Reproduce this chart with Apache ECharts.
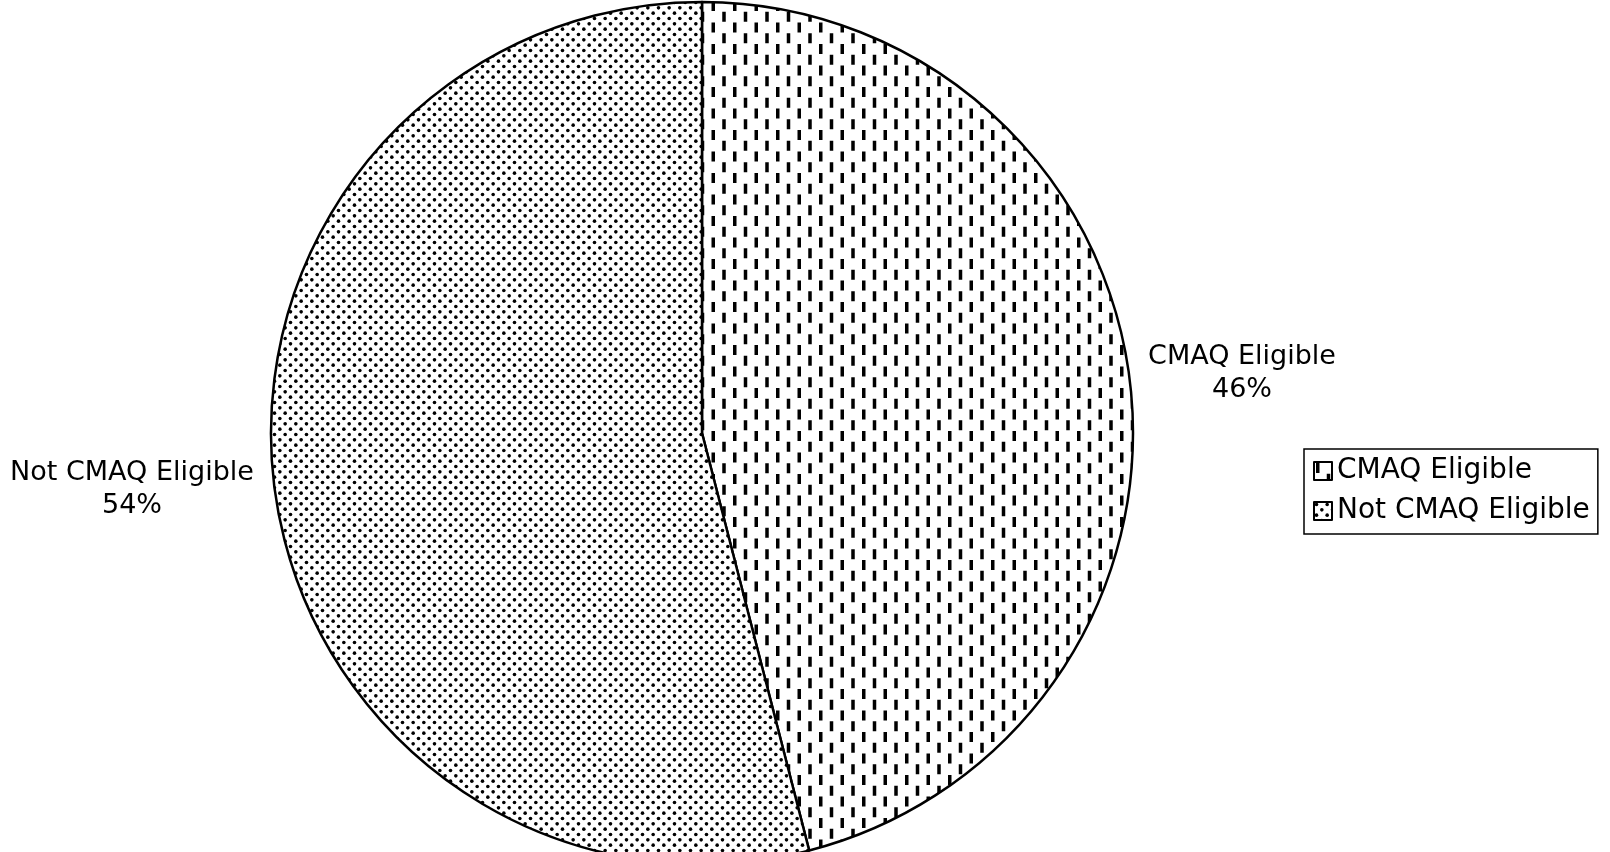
<!DOCTYPE html>
<html>
<head>
<meta charset="utf-8">
<script src="https://cdn.jsdelivr.net/npm/echarts@6/dist/echarts.min.js"></script>
<style>
  html, body { margin: 0; padding: 0; background: #fff; }
  #chart { width: 1610px; height: 852px; }
</style>
</head>
<body>
<div id="chart"></div>
<script>
// data
const categories = ['CMAQ Eligible', 'Not CMAQ Eligible'];
const shares = [46, 54];

// hatch fills, drawn once on small canvases
function dashTile() {
  const c = document.createElement('canvas');
  c.width = 43; c.height = 43;
  const ctx = c.getContext('2d');
  ctx.fillStyle = '#fff';
  ctx.fillRect(0, 0, 43, 43);
  ctx.fillStyle = '#000';
  for (let k = 0; k < 4; k++) {
    const x = 2 + k * 10.75;
    const off = (k % 2) * 10.75;
    for (let j = -1; j < 3; j++) {
      ctx.fillRect(x, off + j * 21.5 + 1, 3.5, 10);
    }
  }
  return c;
}
function dotTile() {
  const c = document.createElement('canvas');
  c.width = 32; c.height = 32;
  const ctx = c.getContext('2d');
  ctx.fillStyle = '#fff';
  ctx.fillRect(0, 0, 32, 32);
  ctx.fillStyle = '#000';
  const p = 32 / 3;
  for (let i = -1; i < 4; i++) {
    for (let j = -1; j < 4; j++) {
      ctx.beginPath();
      ctx.arc(i * p + 2.5, j * p + 2.5, 1.8, 0, Math.PI * 2);
      ctx.fill();
      ctx.beginPath();
      ctx.arc(i * p + 2.5 + p / 2, j * p + 2.5 + p / 2, 1.8, 0, Math.PI * 2);
      ctx.fill();
    }
  }
  return c;
}
const fills = [
  { image: dashTile(), repeat: 'repeat' },
  { image: dotTile(), repeat: 'repeat' }
];
// where the two labels sit
const labelSpots = [[1242, 373], [132, 489]];

const chart = echarts.init(document.getElementById('chart'));
chart.setOption({
  animation: false,
  textStyle: { fontFamily: 'DejaVu Sans', color: '#000' },
  legend: {
    orient: 'vertical',
    left: 1304,
    top: 449,
    padding: [8, 8, 9, 9],
    itemGap: 12,
    itemWidth: 18,
    itemHeight: 18,
    itemTextGap: 8,
    icon: 'rect',
    borderColor: '#000',
    borderWidth: 1.5,
    data: categories,
    textStyle: { fontSize: 28, lineHeight: 28, color: '#000', fontFamily: 'DejaVu Sans' }
  },
  series: [{
    type: 'pie',
    center: [702, 433],
    radius: 431,
    startAngle: 90,
    clockwise: true,
    silent: true,
    itemStyle: { borderColor: '#000', borderWidth: 2.5 },
    label: {
      show: true,
      position: 'outside',
      formatter: '{b}\n{d}%',
      fontSize: 27,
      lineHeight: 33,
      color: '#000',
      fontFamily: 'DejaVu Sans',
      align: 'center',
      overflow: 'none'
    },
    labelLine: { show: false },
    labelLayout: function (params) {
      const s = labelSpots[params.dataIndex];
      return { x: s[0], y: s[1], align: 'center', verticalAlign: 'middle' };
    },
    data: categories.map((name, i) => ({
      name: name,
      value: shares[i],
      itemStyle: { color: fills[i] }
    }))
  }]
});
</script>
</body>
</html>
